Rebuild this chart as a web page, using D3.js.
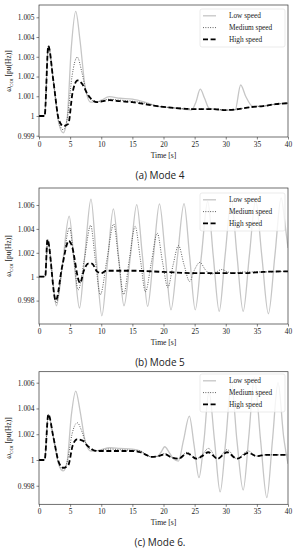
<!DOCTYPE html>
<html>
<head>
<meta charset="utf-8">
<script src="https://cdn.jsdelivr.net/npm/d3@7"></script>
<style>
  body { margin: 0; background: #fff; }
  svg text { font-family: "Liberation Serif", "DejaVu Serif", serif; fill: #222; }
  .caption { font-family: "Open Sans", "Noto Sans", sans-serif !important; }
</style>
</head>
<body>
<div id="chart"></div>
<script>
// ---- data: [time (s), omega_COI (pu)] ----
var xTicks = [0, 5, 10, 15, 20, 25, 30, 35, 40];
var seriesNames = ["Low speed", "Medium speed", "High speed"];
var captions = ["(a) Mode 4", "(b) Mode 5", "(c) Mode 6."];
var yTicksA = [0.999, 1, 1.001, 1.002, 1.003, 1.004, 1.005];
var yTicksB = [0.998, 1, 1.002, 1.004, 1.006];
var yTicksC = [0.998, 1, 1.002, 1.004, 1.006];

var mode4Low = [[0,1],[0.9,1],[1.5,1.00355],[2.3,1.0018],[3.2,0.9996],[3.9,0.99915],[4.5,0.9998],[5.2,1.0035],[5.9,1.0053],[6.6,1.0038],[7.4,1.0015],[8.3,1.0007],[9.2,1.0007],[10,1.0008],[11.3,1.00098],[13,1.0009],[15,1.00085],[17,1.0007],[19,1.0005],[22,1.0004],[24.5,1.0003],[25.2,1.0007],[25.9,1.00136],[26.6,1.0009],[27.3,1.0004],[28,1.00035],[30,1.0003],[31.5,1.0003],[32.4,1.00157],[33.2,1.001],[34.3,1.0005],[36,1.0005],[38,1.0006],[40,1.00065]];
var mode4Med = [[0,1],[0.9,1],[1.5,1.00355],[2.3,1.0018],[3.2,0.9997],[3.9,0.9993],[4.6,1.0000],[5.3,1.002],[6.15,1.00298],[6.9,1.0022],[7.6,1.0012],[8.5,1.0008],[9.3,1.00072],[11.3,1.00085],[13,1.0008],[15,1.00075],[17,1.00065],[19,1.0005],[22,1.0004],[25,1.00035],[28,1.00035],[30,1.0003],[32,1.00035],[34,1.00045],[36,1.0005],[38,1.0006],[40,1.00065]];
var mode4High = [[0,1],[0.9,1],[1.5,1.00355],[2.3,1.0018],[3.2,0.9998],[3.9,0.99949],[4.7,0.9996],[5.4,1.0012],[6.2,1.0018],[7.0,1.0016],[7.8,1.0011],[8.6,1.0008],[9.3,1.0007],[11.3,1.0008],[13,1.00075],[15,1.0007],[17,1.0006],[19,1.0005],[22,1.0004],[25,1.00035],[28,1.00035],[30,1.0003],[32,1.00035],[34,1.00045],[36,1.0005],[38,1.0006],[40,1.00065]];

var mode5Low = [[0,1],[1.0,1],[1.4,1.0031],[2.1,1.0002],[2.8,0.99757],[3.8,1.0012],[4.85,1.00507],[5.65,1.0012],[6.5,0.99738],[7.4,1.002],[8.35,1.0065],[9.2,1.0016],[10.1,0.99673],[11.0,1.0012],[11.95,1.00567],[12.8,1.0016],[13.65,0.99757],[14.7,1.0018],[15.7,1.00604],[16.6,1.0018],[17.45,0.99751],[18.4,1.0018],[19.35,1.0061],[20.3,1.0017],[21.2,0.99723],[22.25,1.0017],[23.3,1.00612],[24.2,1.0017],[25.1,0.99723],[26.1,1.0018],[27.1,1.0063],[28.0,1.0017],[28.95,0.9971],[29.9,1.0018],[30.9,1.0064],[31.8,1.0018],[32.8,0.9971],[33.8,1.0018],[34.8,1.0064],[35.8,1.0017],[36.85,0.9969],[37.9,1.0018],[38.9,1.0066],[39.5,1.0045],[40,1.0024]];
var mode5Med = [[0,1],[1.0,1],[1.4,1.0031],[2.75,0.9978],[3.8,1.001],[4.9,1.0041],[5.6,1.0015],[6.3,0.9989],[7.3,1.0015],[8.3,1.0043],[9.05,1.0014],[9.85,0.9985],[10.9,1.0014],[12.0,1.0044],[12.8,1.0014],[13.6,0.99852],[14.5,1.0014],[15.45,1.0042],[16.3,1.0014],[17.1,0.99874],[18.05,1.0012],[19.0,1.00364],[19.85,1.0012],[20.7,0.99911],[21.55,1.001],[22.4,1.0026],[23.3,1.001],[24.2,0.9996],[25.0,1.0006],[25.85,1.0012],[26.7,1.0006],[27.6,1.0002],[28.5,1.0004],[29.35,1.0006],[30.3,1.0004],[31.2,1.0003],[33,1.0004],[36,1.0004],[40,1.00045]];
var mode5High = [[0,1],[1.0,1],[1.35,1.0031],[2.7,0.998],[3.7,1.0008],[4.8,1.003],[5.2,1.0027],[6.6,0.99947],[7.2,1.0005],[7.9,1.0011],[8.5,1.0011],[9.3,1.00045],[10,1.0003],[10.8,1.0005],[12,1.0005],[15,1.0005],[20,1.0004],[25,1.0003],[30,1.0003],[33,1.0003],[36,1.0004],[40,1.00045]];

var mode6Low = [[0,1],[0.9,1],[1.5,1.00354],[2.3,1.0018],[3.2,0.9996],[3.9,0.99915],[4.5,0.9998],[5.2,1.0035],[5.9,1.00535],[6.6,1.0038],[7.4,1.0015],[8.3,1.0007],[9.2,1.0007],[10,1.0008],[11.4,1.00095],[13,1.0009],[15,1.00085],[16.3,1.0007],[17.2,1.0004],[18,1.00025],[19,1.00028],[19.6,1.0006],[20.2,1.00103],[20.9,1.0006],[21.6,1.0001],[22.4,0.99992],[23.2,1.0015],[24.15,1.00341],[24.9,1.0012],[25.7,0.99863],[26.5,1.0015],[27.3,1.0053],[28.2,1.0015],[29.1,0.99752],[30.0,1.0015],[30.9,1.006],[31.8,1.0015],[32.8,0.99767],[33.7,1.0018],[34.6,1.0064],[35.6,1.0015],[36.6,0.99708],[37.5,1.0015],[38.4,1.006],[39.3,1.0018],[40,0.9997]];
var mode6Med = [[0,1],[0.9,1],[1.5,1.00354],[2.3,1.0018],[3.2,0.9997],[3.9,0.9993],[4.6,1.0000],[5.3,1.002],[6.15,1.00289],[6.9,1.0022],[7.6,1.0012],[8.5,1.0008],[9.3,1.00072],[11.3,1.00085],[13,1.0008],[15,1.00075],[16.3,1.0007],[17.2,1.0004],[18,1.00025],[19,1.00028],[20.2,1.0005],[21.3,1.0002],[22.4,1.0001],[23.8,1.0006],[25.3,1.0001],[26.2,1.0004],[27.2,1.0009],[28.7,1.0001],[30.2,1.0008],[31.8,1.0001],[33.6,1.0007],[35,1.0003],[36.5,1.0004],[38,1.0004],[40,1.0004]];
var mode6High = [[0,1],[0.9,1],[1.5,1.00354],[2.3,1.0018],[3.2,0.9998],[3.9,0.9994],[4.7,0.9996],[5.4,1.0011],[6.1,1.0016],[7.0,1.0015],[7.8,1.0011],[8.6,1.0008],[9.3,1.0007],[11.3,1.0007],[13,1.0007],[15,1.0007],[16.3,1.0006],[17.2,1.0004],[18,1.00025],[19,1.00028],[20.2,1.00044],[21.3,1.0002],[22.4,1.0001],[23.8,1.00052],[25.3,1.0001],[26.2,1.0003],[27.2,1.0006],[28.7,1.0001],[30.2,1.0006],[31.8,1.0001],[33.6,1.00055],[35,1.0003],[36.5,1.0004],[38,1.0004],[40,1.0004]];

var svgWidth = 294;
var svgHeight = 550;

var svg = d3.select("#chart")
    .append("svg")
    .attr("width", svgWidth)
    .attr("height", svgHeight);

// panel boxes (pixel layout)
var panels = [
    { top: 5, bottom: 137, yDomain: [0.998936, 1.005623], yTicks: yTicksA,
      series: [mode4Low, mode4Med, mode4High], caption: captions[0], legendTop: 9 },
    { top: 188, bottom: 324, yDomain: [0.996042, 1.007423], yTicks: yTicksB,
      series: [mode5Low, mode5Med, mode5High], caption: captions[1], legendTop: 193 },
    { top: 371.7, bottom: 504.3, yDomain: [0.996561, 1.006854], yTicks: yTicksC,
      series: [mode6Low, mode6Med, mode6High], caption: captions[2], legendTop: 374 }
];

var left = 39, right = 288;

var styles = [
    { stroke: "#c6c6c6", width: 1.3, dash: null },
    { stroke: "#222", width: 0.8, dash: "0.9,1.5" },
    { stroke: "#000", width: 1.8, dash: "5,2.6" }
];

function fmt(v) {
    return String(+v.toFixed(3));
}

panels.forEach(function(p, i) {
    var x = d3.scaleLinear().domain([0, 40]).range([left, right]);
    var y = d3.scaleLinear().domain(p.yDomain).range([p.bottom, p.top]);

    var clipId = "clip" + i;
    svg.append("clipPath").attr("id", clipId)
        .append("rect")
        .attr("x", left).attr("y", p.top)
        .attr("width", right - left).attr("height", p.bottom - p.top);

    var line = d3.line()
        .x(d => x(d[0]))
        .y(d => y(d[1]))
        .curve(d3.curveMonotoneX);

    var g = svg.append("g").attr("clip-path", `url(#${clipId})`);
    p.series.forEach(function(s, k) {
        g.append("path")
            .datum(s)
            .attr("d", line)
            .attr("fill", "none")
            .attr("stroke", styles[k].stroke)
            .attr("stroke-width", styles[k].width)
            .attr("stroke-dasharray", styles[k].dash);
    });

    // axes
    var bottomAxis = d3.axisBottom(x).tickValues(xTicks).tickSize(2.5).tickPadding(2);
    var leftAxis = d3.axisLeft(y).tickValues(p.yTicks).tickFormat(fmt).tickSize(2.5).tickPadding(2);

    var xAxis = svg.append("g")
        .attr("transform", `translate(0, ${p.bottom})`)
        .call(bottomAxis);
    var yAxis = svg.append("g")
        .attr("transform", `translate(${left}, 0)`)
        .call(leftAxis);

    [xAxis, yAxis].forEach(function(a) {
        a.select(".domain").remove();
        a.selectAll("line").attr("stroke", "#333").attr("stroke-width", 0.6);
        a.selectAll("text").attr("font-size", 7.4).attr("fill", "#333")
            .attr("font-family", "Liberation Serif, serif");
    });

    // frame
    svg.append("rect")
        .attr("x", left).attr("y", p.top)
        .attr("width", right - left).attr("height", p.bottom - p.top)
        .attr("fill", "none").attr("stroke", "#333").attr("stroke-width", 0.7);

    // axis labels
    svg.append("text")
        .attr("x", (left + right) / 2)
        .attr("y", p.bottom + 21)
        .attr("text-anchor", "middle")
        .attr("font-size", 7.6)
        .attr("fill", "#333")
        .text("Time [s]");

    var yl = svg.append("text")
        .attr("transform", `translate(11, ${(p.top + p.bottom) / 2}) rotate(-90)`)
        .attr("text-anchor", "middle")
        .attr("font-size", 7.5)
        .attr("fill", "#444");
    yl.append("tspan").text("ω");
    yl.append("tspan").attr("font-size", 5).attr("dy", 1.5).text("COI");
    yl.append("tspan").attr("dy", -1.5).text(" [pu(Hz)]");

    // legend
    var legend = svg.append("g");
    legend.append("rect")
        .attr("x", 200).attr("y", p.legendTop)
        .attr("width", 85).attr("height", 38)
        .attr("rx", 2)
        .attr("fill", "#fff").attr("fill-opacity", 0.8)
        .attr("stroke", "#ddd").attr("stroke-width", 0.6);
    seriesNames.forEach(function(name, k) {
        var ly = p.legendTop + 6.8 + k * 11.8;
        legend.append("line")
            .attr("x1", 203).attr("x2", 216)
            .attr("y1", ly).attr("y2", ly)
            .attr("stroke", styles[k].stroke)
            .attr("stroke-width", styles[k].width)
            .attr("stroke-dasharray", styles[k].dash);
        legend.append("text")
            .attr("x", 229).attr("y", ly + 2.5)
            .attr("font-size", 7.3)
            .attr("fill", "#333")
            .text(name);
    });

    // caption
    svg.append("text")
        .attr("class", "caption")
        .attr("x", 160)
        .attr("y", p.bottom + 42)
        .attr("text-anchor", "middle")
        .attr("font-size", 10)
        .attr("fill", "#222")
        .text(p.caption);
});
</script>
</body>
</html>
